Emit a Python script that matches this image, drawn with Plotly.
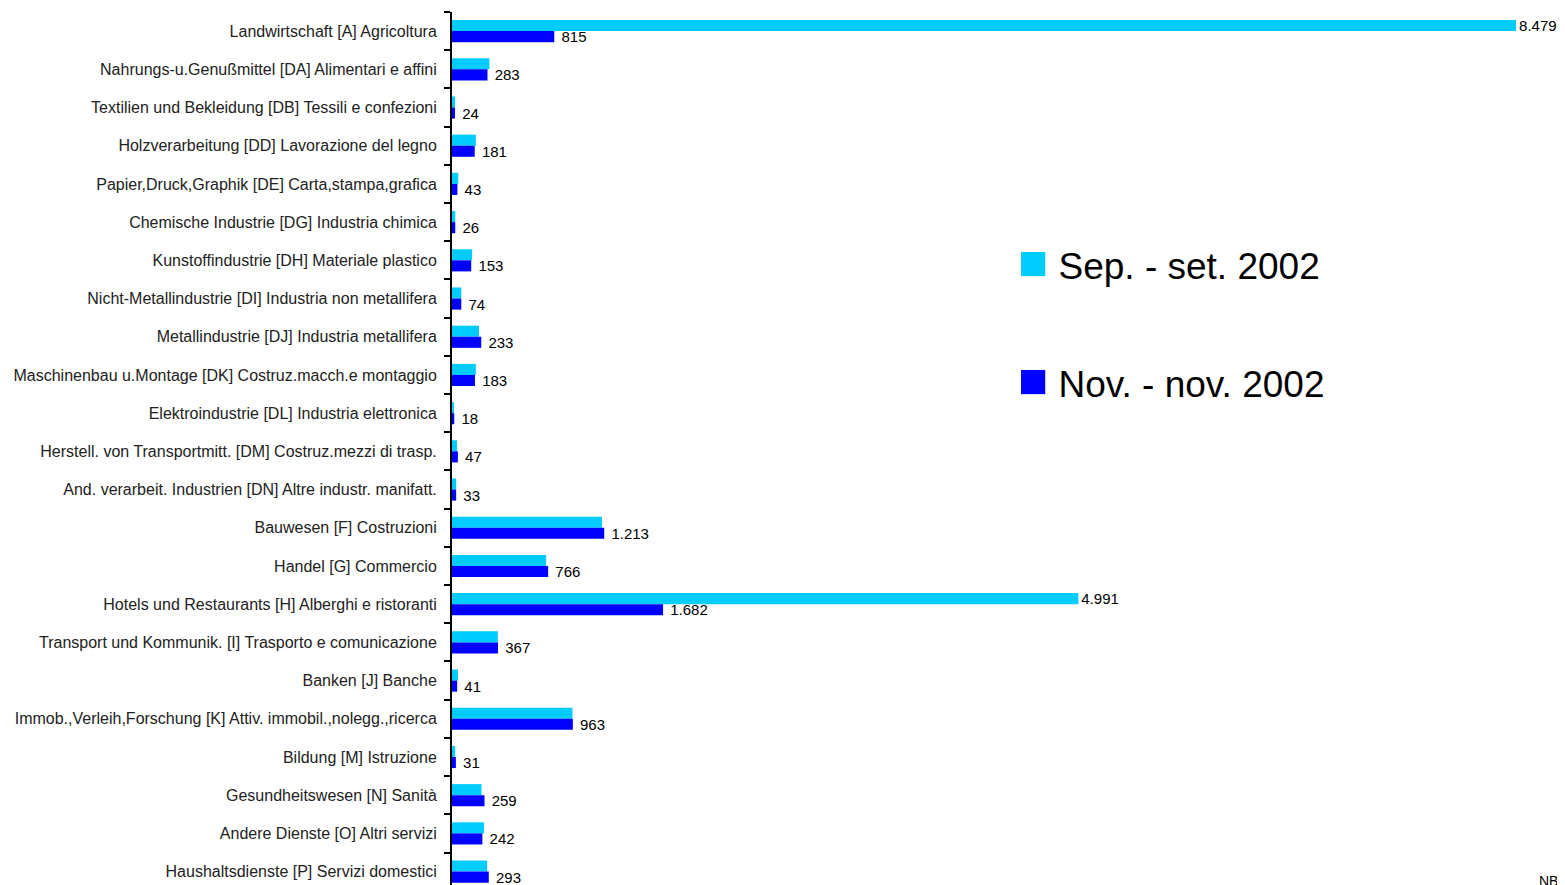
import plotly.graph_objects as go

# sectors, top to bottom
sectors = [
    "Landwirtschaft [A] Agricoltura",
    "Nahrungs-u.Genußmittel [DA] Alimentari e affini",
    "Textilien und Bekleidung [DB] Tessili e confezioni",
    "Holzverarbeitung [DD] Lavorazione del legno",
    "Papier,Druck,Graphik [DE] Carta,stampa,grafica",
    "Chemische Industrie [DG] Industria chimica",
    "Kunstoffindustrie [DH] Materiale plastico",
    "Nicht-Metallindustrie [DI] Industria non metallifera",
    "Metallindustrie [DJ] Industria metallifera",
    "Maschinenbau u.Montage [DK] Costruz.macch.e montaggio",
    "Elektroindustrie [DL] Industria elettronica",
    "Herstell. von Transportmitt. [DM] Costruz.mezzi di trasp.",
    "And. verarbeit. Industrien [DN] Altre industr. manifatt.",
    "Bauwesen [F] Costruzioni",
    "Handel [G] Commercio",
    "Hotels und Restaurants [H] Alberghi e ristoranti",
    "Transport und Kommunik. [I] Trasporto e comunicazione",
    "Banken [J] Banche",
    "Immob.,Verleih,Forschung [K] Attiv. immobil.,nolegg.,ricerca",
    "Bildung [M] Istruzione",
    "Gesundheitswesen [N] Sanità",
    "Andere Dienste [O] Altri servizi",
    "Haushaltsdienste [P] Servizi domestici",
]

sep_2002 = [8479, 298, 24, 190, 50, 26, 160, 74, 215, 190, 16, 40, 33,
            1195, 750, 4991, 365, 48, 960, 25, 235, 255, 280]
nov_2002 = [815, 283, 24, 181, 43, 26, 153, 74, 233, 183, 18, 47, 33,
            1213, 766, 1682, 367, 41, 963, 31, 259, 242, 293]

# only the two large September values carry a label
sep_labels = [f"{v:,}".replace(",", ".") if v > 4000 else "" for v in sep_2002]

CYAN = "#00CCFF"
BLUE = "#0000FF"
FONT = "Liberation Sans, Arial, sans-serif"

fig = go.Figure()
fig.add_trace(go.Bar(
    y=sectors, x=sep_2002, orientation="h", name="Sep. - set. 2002",
    marker=dict(color=CYAN, line=dict(width=0)),
    text=sep_labels, textposition="outside", cliponaxis=False,
    textfont=dict(size=15, color="#000000", family=FONT),
    constraintext="none", showlegend=False,
))
fig.add_trace(go.Bar(
    y=sectors, x=nov_2002, orientation="h", name="Nov. - nov. 2002",
    marker=dict(color=BLUE, line=dict(width=0)),
    texttemplate="\u00a0%{x:,}", textposition="outside", cliponaxis=False,
    textfont=dict(size=15, color="#000000", family=FONT),
    constraintext="none", showlegend=False,
))

# hand-made legend so the colour squares can be large
legend_items = [("Sep. - set. 2002", CYAN, 0.716), ("Nov. - nov. 2002", BLUE, 0.582)]
for label, col, ypos in legend_items:
    fig.add_annotation(
        xref="paper", yref="paper", x=0.503, y=ypos,
        xanchor="left", yanchor="middle", showarrow=False,
        text=f'<span style="color:{col};font-size:50px">■</span> {label}',
        font=dict(size=37, color="#000000", family=FONT),
    )

fig.add_annotation(
    xref="paper", yref="paper", x=0.968, y=0.0, xanchor="left", yanchor="top",
    yshift=22, showarrow=False, text="NBA",
    font=dict(size=14, color="#000000", family=FONT),
)

fig.update_layout(
    width=1565, height=885,
    margin=dict(l=444, r=0, t=4, b=0, autoexpand=False),
    barmode="group", bargap=0.42, bargroupgap=0,
    separators=",.",
    plot_bgcolor="white", paper_bgcolor="white",
    font=dict(family=FONT, size=15, color="#000000"),
)
fig.update_xaxes(
    range=[0, 8933], visible=False, showgrid=False, zeroline=False,
    automargin=False,
)
fig.update_yaxes(
    type="category", range=[22.56, -0.5], automargin=False,
    tickson="boundaries", ticks="outside", ticklen=6, tickwidth=2,
    tickcolor="#000000", showline=True, linecolor="#000000", linewidth=2,
    showgrid=False, ticklabelstandoff=10,
    tickfont=dict(size=16, color="#222222", family=FONT),
)

fig.write_html("out.html")
